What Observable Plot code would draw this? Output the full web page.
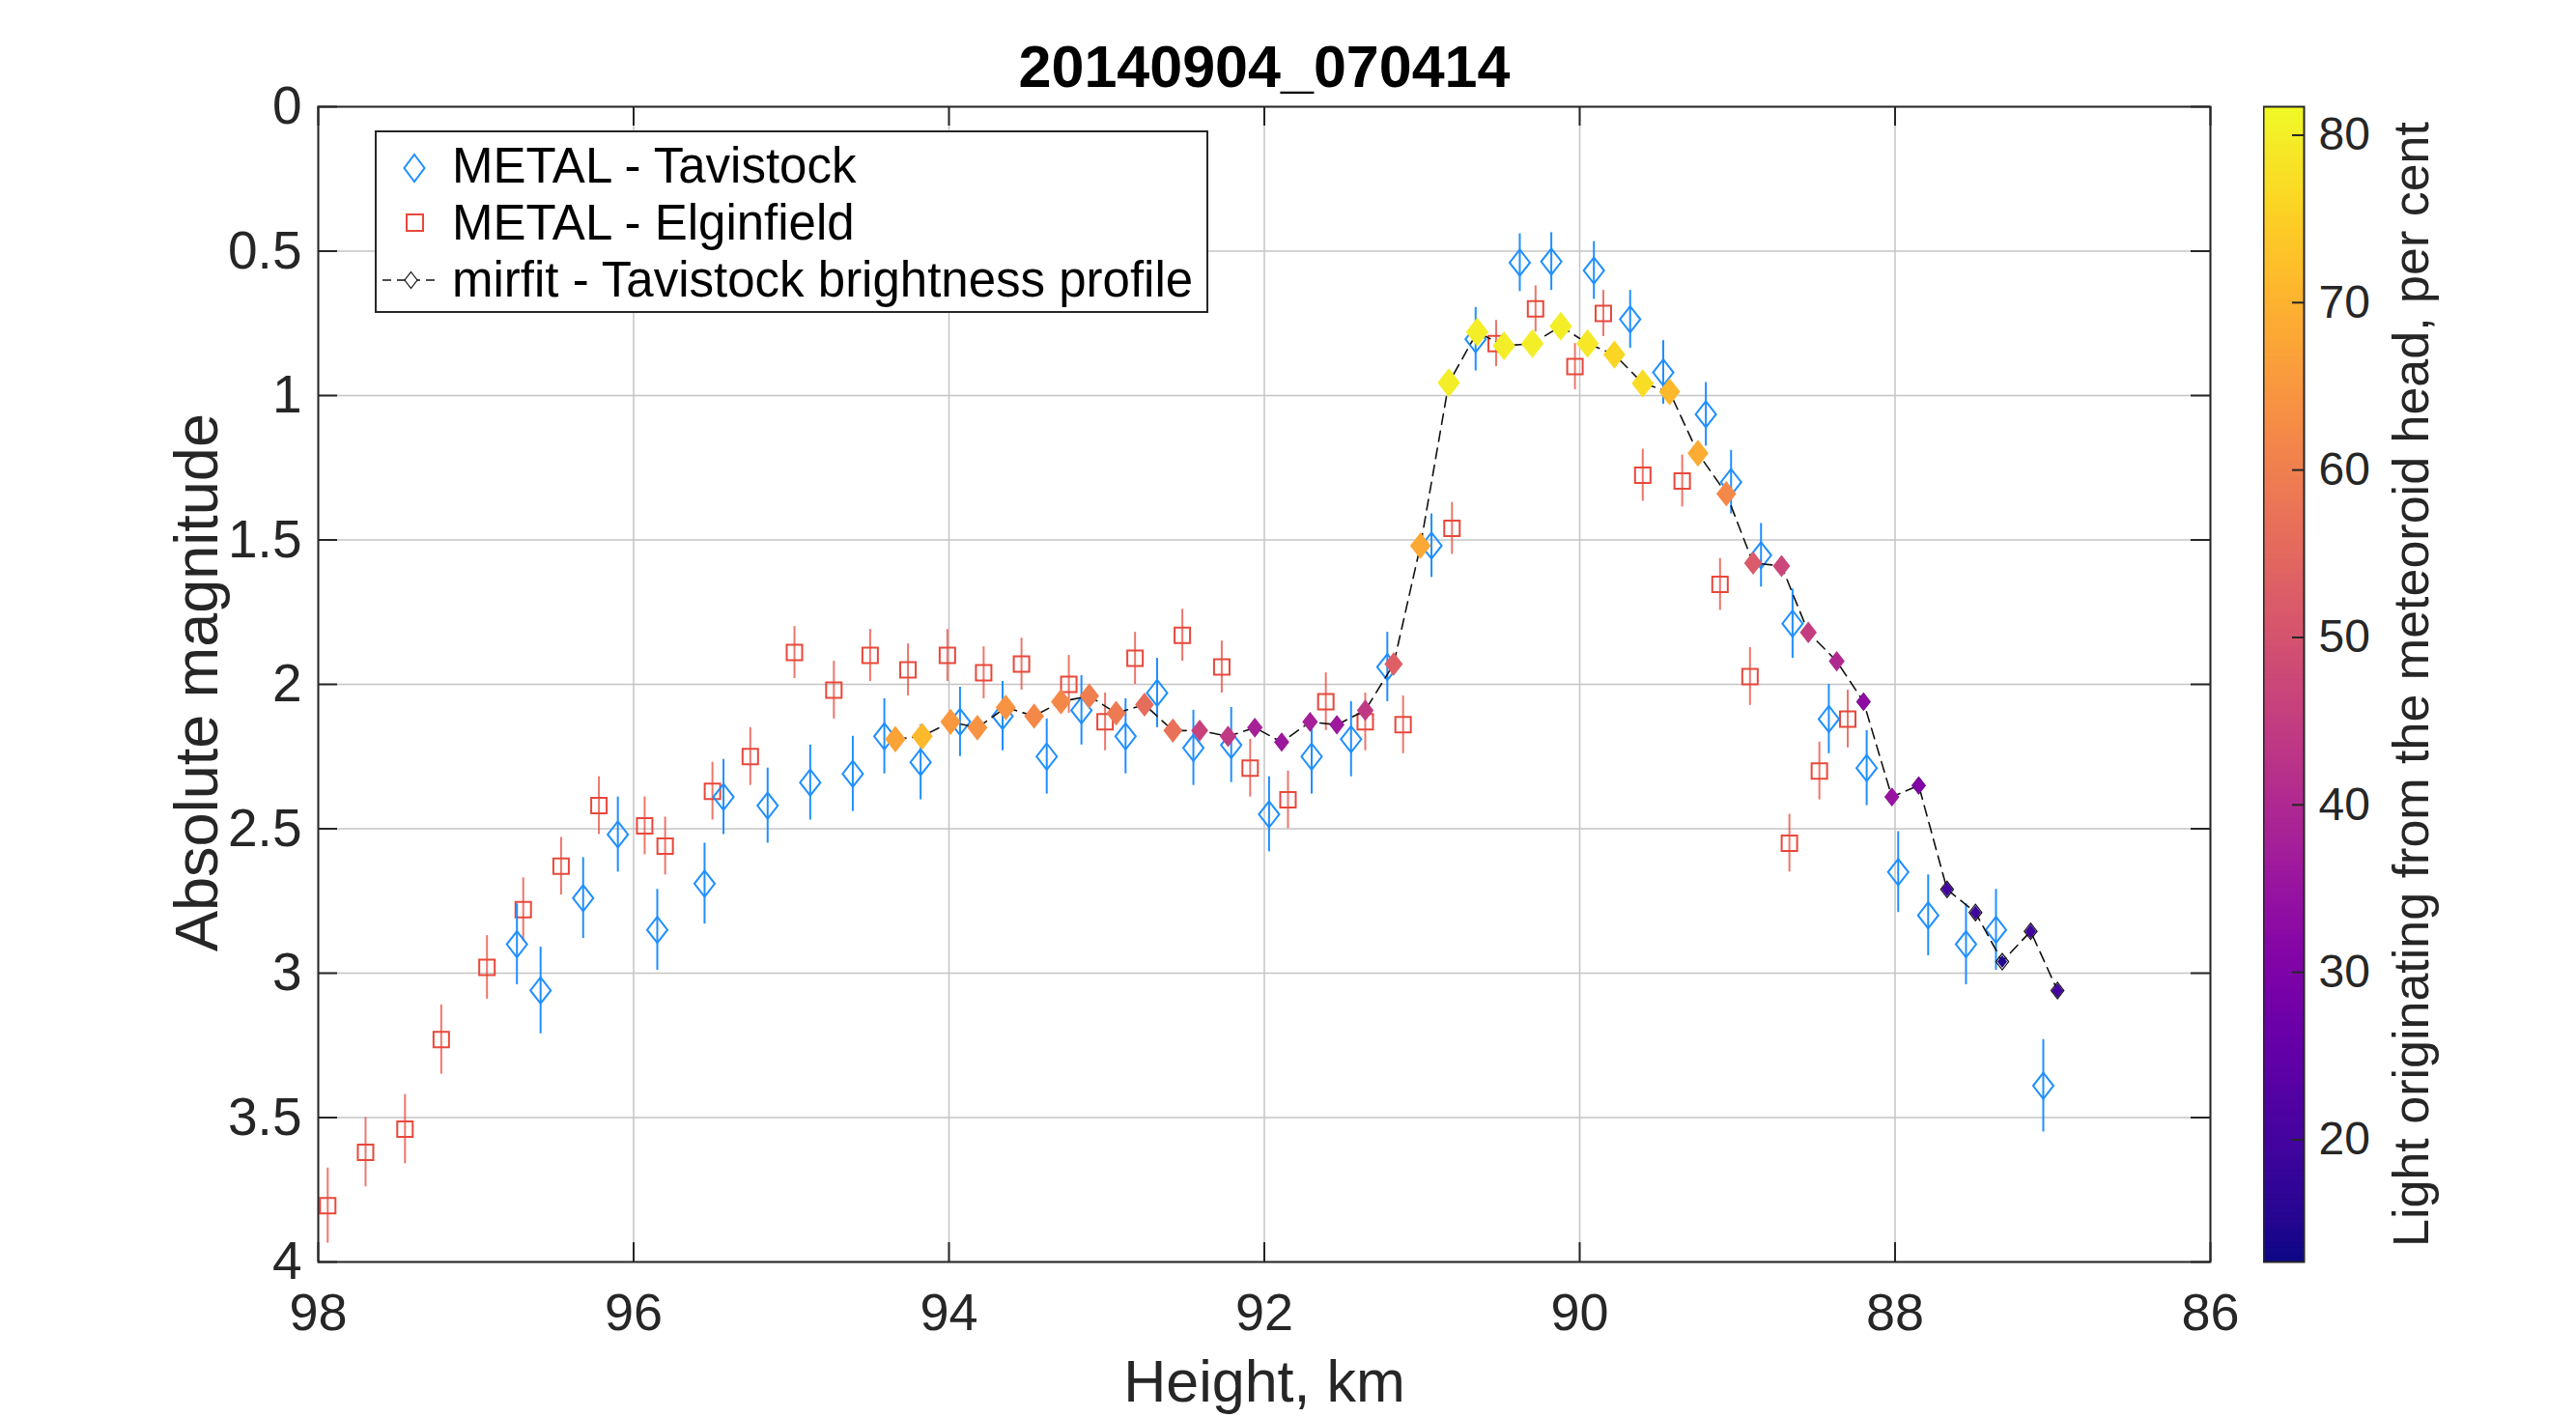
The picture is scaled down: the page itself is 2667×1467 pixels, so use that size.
<!DOCTYPE html>
<html>
<head>
<meta charset="utf-8">
<script src="https://cdn.jsdelivr.net/npm/d3@7"></script>
<script src="https://cdn.jsdelivr.net/npm/@observablehq/plot@0.6"></script>
<style>
  html, body { margin: 0; padding: 0; background: #fff; }
  #wrap { position: relative; width: 2667px; height: 1467px; overflow: hidden; font-family: "Liberation Sans", Arial, Helvetica, sans-serif; }
  #wrap > * { position: absolute; }
</style>
</head>
<body>
<div id="wrap"></div>
<script>
// ---------- data ----------
const titleText = "20140904_070414";
const xLabel = "Height, km";
const yLabel = "Absolute magnitude";
const cbLabel = "Light originating from the meteoroid head, per cent";
const legendLabels = ["METAL - Tavistock", "METAL - Elginfield", "mirfit - Tavistock brightness profile"];

const xTicks = [98, 96, 94, 92, 90, 88, 86];
const yTicks = [0, 0.5, 1, 1.5, 2, 2.5, 3, 3.5, 4];
const cbTicks = [20, 30, 40, 50, 60, 70, 80];
const cbDomain = [12.7, 81.7];

// METAL - Tavistock
const tavHeight = [96.74, 96.59, 96.32, 96.10, 95.85, 95.55, 95.43, 95.15, 94.88, 94.61, 94.41, 94.18, 93.93, 93.66, 93.38, 93.16, 92.88, 92.68, 92.45, 92.21, 91.97, 91.70, 91.45, 91.22, 90.94, 90.66, 90.38, 90.18, 89.91, 89.68, 89.47, 89.20, 89.04, 88.85, 88.65, 88.42, 88.18, 87.98, 87.79, 87.55, 87.36, 87.06];
const tavMag    = [2.90, 3.06, 2.74, 2.52, 2.85, 2.69, 2.39, 2.42, 2.34, 2.31, 2.18, 2.27, 2.13, 2.11, 2.25, 2.09, 2.18, 2.03, 2.22, 2.21, 2.45, 2.25, 2.19, 1.94, 1.52, 0.805, 0.54, 0.536, 0.567, 0.736, 0.92, 1.065, 1.30, 1.553, 1.79, 2.12, 2.29, 2.65, 2.80, 2.90, 2.85, 3.39];
const tavErr    = [0.14, 0.15, 0.14, 0.13, 0.14, 0.14, 0.13, 0.13, 0.13, 0.13, 0.13, 0.13, 0.12, 0.12, 0.13, 0.12, 0.13, 0.12, 0.13, 0.13, 0.13, 0.13, 0.13, 0.12, 0.11, 0.11, 0.10, 0.10, 0.10, 0.10, 0.11, 0.11, 0.11, 0.11, 0.12, 0.12, 0.13, 0.14, 0.14, 0.14, 0.14, 0.16];

// METAL - Elginfield
const elgHeight = [97.94, 97.70, 97.45, 97.22, 96.93, 96.70, 96.46, 96.22, 95.93, 95.80, 95.50, 95.26, 94.98, 94.73, 94.50, 94.26, 94.01, 93.78, 93.54, 93.24, 93.01, 92.82, 92.52, 92.27, 92.09, 91.85, 91.61, 91.36, 91.12, 90.81, 90.53, 90.28, 90.03, 89.85, 89.60, 89.35, 89.11, 88.92, 88.67, 88.48, 88.30];
const elgMag    = [3.805, 3.62, 3.54, 3.23, 2.98, 2.78, 2.63, 2.42, 2.49, 2.56, 2.37, 2.25, 1.89, 2.02, 1.90, 1.95, 1.90, 1.96, 1.93, 2.00, 2.13, 1.91, 1.83, 1.94, 2.29, 2.40, 2.06, 2.13, 2.14, 1.46, 0.82, 0.70, 0.90, 0.716, 1.276, 1.296, 1.654, 1.973, 2.55, 2.30, 2.12];
const elgErr    = [0.13, 0.12, 0.12, 0.12, 0.11, 0.11, 0.10, 0.10, 0.10, 0.10, 0.10, 0.10, 0.09, 0.10, 0.09, 0.09, 0.09, 0.09, 0.09, 0.10, 0.10, 0.09, 0.09, 0.09, 0.10, 0.10, 0.10, 0.10, 0.10, 0.09, 0.08, 0.08, 0.08, 0.08, 0.09, 0.09, 0.09, 0.10, 0.10, 0.10, 0.10];

// mirfit - Tavistock brightness profile
const fitHeight = [94.34, 94.17, 93.99, 93.82, 93.64, 93.46, 93.29, 93.11, 92.94, 92.76, 92.58, 92.41, 92.23, 92.06, 91.89, 91.71, 91.54, 91.36, 91.18, 91.01, 90.83, 90.65, 90.48, 90.30, 90.12, 89.95, 89.78, 89.60, 89.43, 89.25, 89.07, 88.90, 88.72, 88.55, 88.37, 88.20, 88.02, 87.85, 87.67, 87.49, 87.32, 87.14, 86.97];
const fitMag    = [2.19, 2.18, 2.13, 2.15, 2.08, 2.11, 2.06, 2.04, 2.10, 2.07, 2.16, 2.16, 2.18, 2.15, 2.20, 2.13, 2.14, 2.09, 1.93, 1.52, 0.956, 0.78, 0.828, 0.82, 0.76, 0.82, 0.858, 0.958, 0.987, 1.20, 1.34, 1.58, 1.59, 1.82, 1.92, 2.06, 2.39, 2.35, 2.71, 2.79, 2.96, 2.855, 3.06];
const fitPct    = [67, 71, 65, 64, 64, 62, 62, 60, 59, 56, 57, 46, 44, 38, 36, 38, 36, 44, 53, 68, 80, 80, 80, 80, 80, 79, 76, 77, 71, 69, 62, 52, 47, 45, 40, 33, 35, 31, 20, 19, 15, 19, 20];

// ---------- tables ----------
const tav = tavHeight.map((h, i) => ({h, m: tavMag[i], e: tavErr[i]}));
const elg = elgHeight.map((h, i) => ({h, m: elgMag[i], e: elgErr[i]}));
const fit = fitHeight.map((h, i) => ({h, m: fitMag[i], p: fitPct[i]}));

// ---------- style ----------
const FONT = '"Liberation Sans", Arial, Helvetica, sans-serif';
const AX = "#262626";
const BLUE = "#1f8fff";
const RED = "#e8483b";
const GRID = "#c4c4c4";

const W = 2667, H = 1467;
const mL = 329, mR = 379, mT = 110, mB = 161;
const plotW = W - mL - mR, plotH = H - mT - mB;
const TICK = 20;

const diamond = {
  draw(ctx, size) {
    const r = Math.sqrt(size / Math.PI), w = r * 0.78;
    ctx.moveTo(0, -r); ctx.lineTo(w, 0); ctx.lineTo(0, r); ctx.lineTo(-w, 0); ctx.closePath();
  }
};
const square = {
  draw(ctx, size) {
    const s = Math.sqrt(size / Math.PI);
    ctx.moveTo(-s, -s); ctx.lineTo(s, -s); ctx.lineTo(s, s); ctx.lineTo(-s, s); ctx.closePath();
  }
};

const main = Plot.plot({
  width: W, height: H,
  marginLeft: mL, marginRight: mR, marginTop: mT, marginBottom: mB,
  style: {fontFamily: FONT, color: AX, background: "white"},
  x: {domain: [98, 86], ticks: xTicks},
  y: {domain: [0, 4], reverse: true, ticks: yTicks},
  r: {type: "sqrt", domain: [0, 80], range: [0, 15]},
  color: {type: "linear", scheme: "plasma", domain: cbDomain},
  marks: [
    Plot.ruleX(xTicks, {x: d => d, stroke: GRID, strokeWidth: 1.5}),
    Plot.ruleY(yTicks, {y: d => d, stroke: GRID, strokeWidth: 1.5}),
    Plot.tickX(xTicks, {x: d => d, insetTop: plotH - TICK, stroke: AX, strokeWidth: 2}),
    Plot.tickX(xTicks, {x: d => d, insetBottom: plotH - TICK, stroke: AX, strokeWidth: 2}),
    Plot.tickY(yTicks, {y: d => d, insetRight: plotW - TICK, stroke: AX, strokeWidth: 2}),
    Plot.tickY(yTicks, {y: d => d, insetLeft: plotW - TICK, stroke: AX, strokeWidth: 2}),
    Plot.axisX({ticks: xTicks, tickSize: 0, tickPadding: 32, fontSize: 54, label: null, tickFormat: d => String(d)}),
    Plot.axisY({ticks: yTicks, tickSize: 0, tickPadding: 17, fontSize: 55, label: null, tickFormat: d => String(d)}),
    // error bars + markers
    Plot.ruleX(elg, {x: "h", y1: d => d.m - d.e, y2: d => d.m + d.e, stroke: RED, strokeWidth: 2, strokeOpacity: 0.75}),
    Plot.dot(elg, {x: "h", y: "m", symbol: square, r: 8, stroke: RED, fill: "none", strokeWidth: 2}),
    Plot.ruleX(tav, {x: "h", y1: d => d.m - d.e, y2: d => d.m + d.e, stroke: BLUE, strokeWidth: 2}),
    Plot.dot(tav, {x: "h", y: "m", symbol: diamond, r: 13.5, stroke: BLUE, fill: "none", strokeWidth: 2}),
    // mirfit profile
    Plot.line(fit, {x: "h", y: "m", stroke: "#111", strokeWidth: 1.6, strokeDasharray: "11,7"}),
    Plot.dot(fit, {x: "h", y: "m", symbol: diamond, r: 8.5, stroke: "#111", fill: "none", strokeWidth: 1.2}),
    Plot.dot(fit, {x: "h", y: "m", symbol: diamond, r: "p", fill: "p", sort: null}),
    Plot.frame({stroke: AX, strokeWidth: 2}),
    // texts
    Plot.text([titleText], {text: d => d, frameAnchor: "top", dy: -21, textAnchor: "middle", lineAnchor: "bottom", fontSize: 61, fontWeight: "bold", fill: "black"}),
    Plot.text([xLabel], {text: d => d, frameAnchor: "bottom", dy: 144, textAnchor: "middle", lineAnchor: "bottom", fontSize: 61, fill: AX}),
    Plot.text([yLabel], {text: d => d, frameAnchor: "left", dx: -105, dy: -2, rotate: -90, textAnchor: "middle", lineAnchor: "bottom", fontSize: 63, fill: AX})
  ]
});
main.style.left = "0px"; main.style.top = "0px";
document.getElementById("wrap").appendChild(main);

// ---------- colorbar ----------
const cbLeft = 2343, cbW = 42;
const cbN = 240, cbStep = (cbDomain[1] - cbDomain[0]) / cbN;
const cbSlices = d3.range(cbN).map(i => cbDomain[0] + i * cbStep);
const cb = Plot.plot({
  width: W - cbLeft, height: H,
  marginLeft: 0, marginRight: W - cbLeft - cbW, marginTop: mT, marginBottom: mB,
  style: {fontFamily: FONT, color: AX, background: "transparent"},
  x: {domain: [0, 1], axis: null},
  y: {domain: cbDomain},
  color: {type: "linear", scheme: "plasma", domain: cbDomain},
  marks: [
    Plot.rect(cbSlices, {x1: () => 0, x2: () => 1, y1: d => d, y2: d => Math.min(cbDomain[1], d + cbStep * 1.6), fill: d => d + cbStep / 2}),
    Plot.tickY(cbTicks, {y: d => d, insetLeft: cbW - 12, stroke: AX, strokeWidth: 2}),
    Plot.axisY({anchor: "right", ticks: cbTicks, tickSize: 0, tickPadding: 15, fontSize: 48, label: null}),
    Plot.frame({stroke: AX, strokeWidth: 2}),
    Plot.text([cbLabel], {text: d => d, frameAnchor: "right", dx: 128, dy: 0, rotate: -90, textAnchor: "middle", lineAnchor: "bottom", fontSize: 52, fill: AX})
  ]
});
cb.style.left = cbLeft + "px"; cb.style.top = "0px";
document.getElementById("wrap").appendChild(cb);

// ---------- legend ----------
const lg = d3.create("svg")
  .attr("width", 864).attr("height", 190)
  .style("left", "388px").style("top", "135px")
  .style("font-family", FONT);
lg.append("rect").attr("x", 1).attr("y", 1).attr("width", 861).attr("height", 187)
  .attr("fill", "white").attr("stroke", AX).attr("stroke-width", 2);
const rowY = [54, 113, 172];
const symY = [39, 95, 155];
lg.append("path").attr("d", "M41,25L51.5,39L41,53L30.5,39Z").attr("fill", "none").attr("stroke", BLUE).attr("stroke-width", 2);
lg.append("rect").attr("x", 33).attr("y", 87).attr("width", 17).attr("height", 17).attr("fill", "none").attr("stroke", RED).attr("stroke-width", 2);
lg.append("line").attr("x1", 8).attr("x2", 67).attr("y1", symY[2]).attr("y2", symY[2]).attr("stroke", "#111").attr("stroke-width", 1.6).attr("stroke-dasharray", "9,6");
lg.append("path").attr("d", "M37.5,146.5L44,155L37.5,163.5L31,155Z").attr("fill", "white").attr("stroke", "#111").attr("stroke-width", 1.2);
legendLabels.forEach((t, i) => {
  lg.append("text").attr("x", 80).attr("y", rowY[i]).attr("font-size", 51).attr("fill", "black").text(t);
});
document.getElementById("wrap").appendChild(lg.node());
</script>
</body>
</html>
